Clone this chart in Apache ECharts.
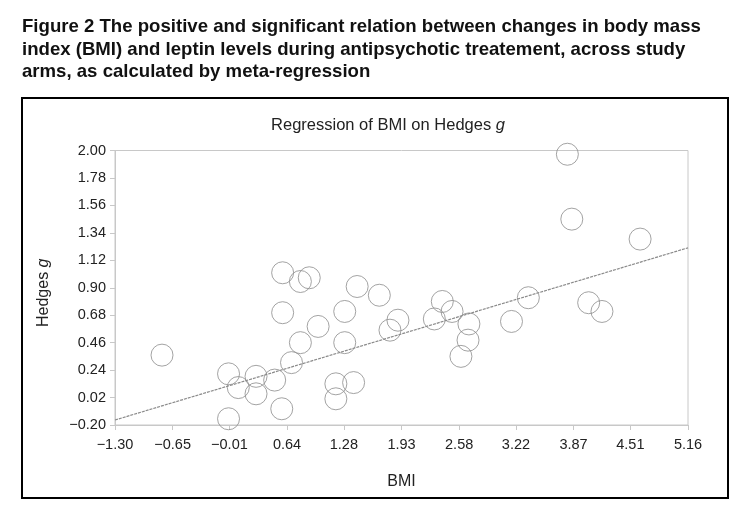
<!DOCTYPE html>
<html><head><meta charset="utf-8">
<script src="https://cdn.jsdelivr.net/npm/echarts@6/dist/echarts.min.js"></script>
<style>html,body{margin:0;padding:0;background:#fff}#c{width:742px;height:518px}</style>
</head><body><div id="c"></div>
<script>
// Data
var bmi = [-0.77,-0.02,0.09,-0.02,0.29,0.29,0.50,0.58,0.59,0.59,0.69,0.79,0.79,0.89,0.99,1.19,1.19,1.29,1.29,1.39,1.43,1.68,1.80,1.89,2.30,2.39,2.50,2.69,2.68,2.60,3.17,3.36,3.80,3.85,4.04,4.19,4.62];
var hedgesG = [0.36,0.21,0.10,-0.15,0.19,0.05,0.16,-0.07,0.70,1.02,0.30,0.46,0.95,0.98,0.59,0.13,0.01,0.71,0.46,0.14,0.91,0.84,0.56,0.64,0.65,0.79,0.71,0.61,0.48,0.35,0.63,0.82,1.97,1.45,0.78,0.71,1.29];
var regLineX = [-1.30, 5.16];
var regLineY = [-0.16, 1.22];
var xTicks = [-1.30,-0.65,-0.01,0.64,1.28,1.93,2.58,3.22,3.87,4.51,5.16];
var yTicks = [-0.20,0.02,0.24,0.46,0.68,0.90,1.12,1.34,1.56,1.78,2.00];

var pts = bmi.map(function(x,i){return [x, hedgesG[i]];});
var line = regLineX.map(function(x,i){return [x, regLineY[i]];});
function fmt(v){ return v.toFixed(2).replace('-', '\u2212'); }
var FF = 'Liberation Sans, Arial, Helvetica, sans-serif';

var chart = echarts.init(document.getElementById('c'), null, {renderer:'canvas'});
chart.setOption({
  backgroundColor:'#fff',
  animation:false,
  title:[{
    text:'Figure 2 The positive and significant relation between changes in body mass\nindex (BMI) and leptin levels during antipsychotic treatement, across study\narms, as calculated by meta-regression',
    left:22, top:16, padding:0,
    textStyle:{fontFamily:FF, fontWeight:'bold', fontSize:18.6, lineHeight:22.5, color:'#111'}
  },{
    text:'Regression of BMI on Hedges {i|g}',
    left:388, top:117, textAlign:'center', padding:0,
    textStyle:{fontFamily:FF, fontWeight:'normal', fontSize:16.5, color:'#222',
      rich:{i:{fontFamily:FF, fontStyle:'italic', fontSize:16.5, color:'#222'}}}
  }],
  graphic:[{
    type:'rect', shape:{x:22, y:98, width:706, height:400},
    style:{fill:'none', stroke:'#000', lineWidth:2}, silent:true
  }],
  grid:{left:115, right:54, top:150.5, bottom:93, show:true, borderColor:'#c8c8c8', borderWidth:1, containLabel:false},
  xAxis:{
    type:'value', min:-1.30, max:5.16,
    name:'BMI', nameLocation:'middle', nameGap:49,
    nameTextStyle:{fontFamily:FF, fontSize:16, color:'#222'},
    axisLine:{show:true, onZero:false, lineStyle:{color:'#c8c8c8'}},
    axisTick:{show:true, length:5, lineStyle:{color:'#c8c8c8'}, customValues:xTicks},
    axisLabel:{customValues:xTicks, formatter:fmt, margin:12, fontFamily:FF, fontSize:14.5, color:'#222'},
    splitLine:{show:false}
  },
  yAxis:{
    type:'value', min:-0.20, max:2.00,
    name:'Hedges {i|g}', nameLocation:'middle', nameGap:63, nameRotate:90,
    nameTextStyle:{fontFamily:FF, fontSize:16, color:'#222', padding:[0,0,0,-10],
      rich:{i:{fontFamily:FF, fontStyle:'italic', fontSize:16, color:'#222'}}},
    axisLine:{show:true, onZero:false, lineStyle:{color:'#c8c8c8'}},
    axisTick:{show:true, length:5, lineStyle:{color:'#c8c8c8'}, customValues:yTicks},
    axisLabel:{customValues:yTicks, formatter:fmt, margin:9, fontFamily:FF, fontSize:14.5, color:'#222'},
    splitLine:{show:false}
  },
  series:[{
    type:'line', data:line, symbol:'none', silent:true,
    lineStyle:{color:'#8a8a8a', width:1.2, type:[3,1]}, z:2
  },{
    type:'scatter', data:pts, symbol:'circle', symbolSize:22,
    itemStyle:{color:'rgba(0,0,0,0)', borderColor:'#8c8c8c', borderWidth:1}, z:3
  }]
});
</script></body></html>
